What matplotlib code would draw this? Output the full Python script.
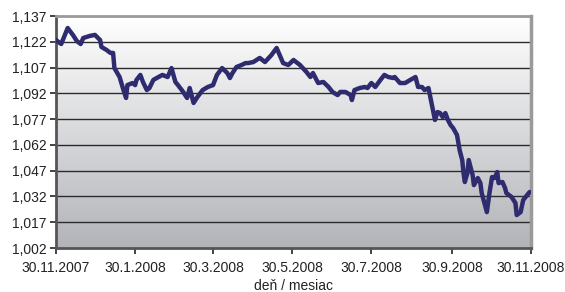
import numpy as np
import pandas as pd
import matplotlib
matplotlib.use("Agg")
import matplotlib.pyplot as plt
import matplotlib.dates as mdates
from matplotlib.ticker import FuncFormatter

plt.rcParams['font.family'] = ['Liberation Sans', 'DejaVu Sans']

start_date = "2007-11-30"
day_offsets = [0, 4, 9, 13, 16, 19, 21, 26, 30, 34, 35, 39, 42, 44, 45, 49, 52, 54, 55, 59,
               61, 62, 65, 67, 70, 72, 75, 79, 82, 86, 89, 92, 94, 98, 101, 103, 106, 109, 113, 117,
               121, 124, 128, 132, 134, 136, 139, 143, 146, 148, 152, 157, 161, 166, 170, 175, 179, 183, 188, 193,
               196, 198, 202, 206, 210, 213, 217, 219, 223, 227, 228, 230, 234, 238, 240, 243, 246, 250, 253, 256,
               260, 261, 265, 269, 273, 277, 279, 282, 284, 287, 290, 292, 294, 296, 298, 300, 302, 304, 306, 309,
               311, 313, 314, 315, 317, 318, 321, 322, 325, 327, 328, 331, 332, 334, 336, 338, 340, 341, 344, 346,
               347, 351, 354, 355, 358, 360, 363, 365]
values = [1.1230, 1.1207, 1.1300, 1.1260, 1.1225, 1.1207, 1.1242, 1.1254, 1.1260, 1.1230,
          1.1190, 1.1172, 1.1155, 1.1155, 1.1067, 1.1015, 1.0939, 1.0893, 1.0968, 1.0980,
          1.0968, 1.0998, 1.1027, 1.0986, 1.0939, 1.0951, 1.0998, 1.1015, 1.1027, 1.1015,
          1.1067, 1.0986, 1.0968, 1.0928, 1.0893, 1.0951, 1.0864, 1.0899, 1.0939, 1.0957,
          1.0968, 1.1027, 1.1067, 1.1038, 1.1009, 1.1038, 1.1073, 1.1085, 1.1096, 1.1096,
          1.1102, 1.1126, 1.1102, 1.1143, 1.1184, 1.1096, 1.1085, 1.1114, 1.1085, 1.1044,
          1.1015, 1.1038, 1.0980, 1.0986, 1.0957, 1.0928, 1.0910, 1.0928, 1.0928, 1.0910,
          1.0881, 1.0939, 1.0951, 1.0957, 1.0951, 1.0980, 1.0957, 1.0998, 1.1027, 1.1015,
          1.1009, 1.1015, 1.0980, 1.0980, 1.0998, 1.1015, 1.0957, 1.0957, 1.0939, 1.0951,
          1.0840, 1.0765, 1.0811, 1.0805, 1.0782, 1.0805, 1.0765, 1.0736, 1.0718, 1.0677,
          1.0590, 1.0532, 1.0456, 1.0404, 1.0456, 1.0532, 1.0445, 1.0386, 1.0427, 1.0398,
          1.0340, 1.0258, 1.0229, 1.0340, 1.0433, 1.0427, 1.0462, 1.0398, 1.0404, 1.0369,
          1.0340, 1.0317, 1.0282, 1.0212, 1.0229, 1.0299, 1.0328, 1.0346]

y_ticks = [1.002, 1.017, 1.032, 1.047, 1.062, 1.077, 1.092, 1.107, 1.122, 1.137]
x_tick_labels = ["30.11.2007", "30.1.2008", "30.3.2008", "30.5.2008",
                 "30.7.2008", "30.9.2008", "30.11.2008"]
x_label = "deň / mesiac"

dates = pd.Timestamp(start_date) + pd.to_timedelta(day_offsets, unit="D")
tick_dates = [pd.to_datetime(s, format="%d.%m.%Y") for s in x_tick_labels]

fig = plt.figure(figsize=(5.65, 2.92), dpi=100)
ax = fig.add_axes([56/565, 1-248/292, (531-56)/565, (248-16)/292])

x0 = mdates.date2num(tick_dates[0])
x1 = mdates.date2num(tick_dates[-1])

# gradient background: white at top, grey at bottom
grad = np.linspace(0, 1, 256).reshape(-1, 1)
top = np.array([1.0, 1.0, 1.0])
bot = np.array([0.70, 0.705, 0.725])
img = top[None, None, :] * (1 - grad[:, :, None]) + bot[None, None, :] * grad[:, :, None]
ax.imshow(img, extent=[x0, x1, y_ticks[0], y_ticks[-1]], origin='upper', aspect='auto',
          zorder=0, interpolation='bilinear')
ax.set_xlim(x0, x1)
ax.set_ylim(y_ticks[0], y_ticks[-1])

for yv in y_ticks[1:-1]:
    ax.axhline(yv, color='#2b2b2b', lw=1.0, zorder=1)

ax.plot(mdates.date2num(dates), values, color='#2e2b6f', lw=3.2,
        solid_joinstyle='round', solid_capstyle='round', zorder=3)

ax.set_yticks(y_ticks)
ax.yaxis.set_major_formatter(FuncFormatter(lambda v, p: f"{v:.3f}".replace(".", ",")))
ax.set_xticks([mdates.date2num(d) for d in tick_dates])
ax.set_xticklabels(x_tick_labels)

ax.tick_params(axis='both', labelsize=10, colors='#222222', length=4, width=1.2,
               direction='out')
ax.tick_params(axis='x', pad=5)
ax.tick_params(axis='y', pad=3)

ax.spines['left'].set_color('#555555')
ax.spines['left'].set_linewidth(2.0)
ax.spines['bottom'].set_color('#555555')
ax.spines['bottom'].set_linewidth(2.0)
ax.spines['top'].set_color('#9a9a9a')
ax.spines['top'].set_linewidth(2.0)
ax.spines['right'].set_color('#9a9a9a')
ax.spines['right'].set_linewidth(2.5)

fig.text((56 + 531) / 2 / 565, 1 - 286/292, x_label, ha='center', va='center',
         fontsize=10, color='#222222')

fig.savefig("out.png", dpi=100)
